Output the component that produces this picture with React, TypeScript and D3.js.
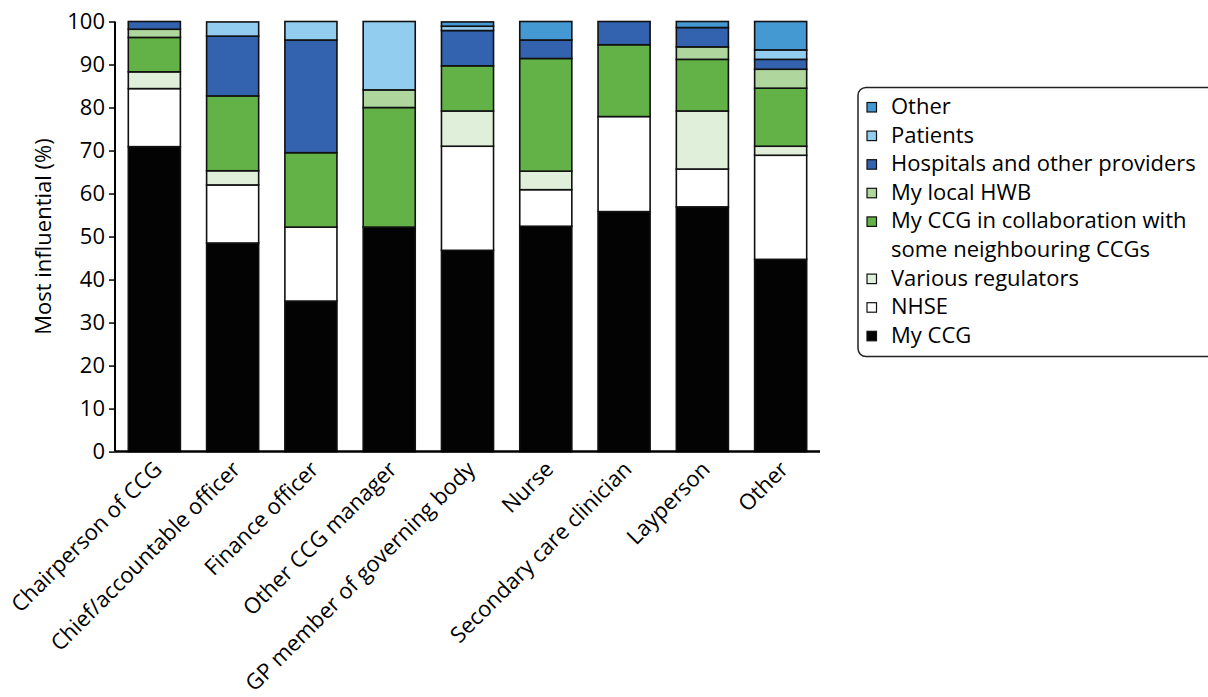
import { useEffect, useRef } from "react";
import * as d3 from "d3";

// カテゴリ (x軸)
const roles = [
  "Chairperson of CCG",
  "Chief/accountable officer",
  "Finance officer",
  "Other CCG manager",
  "GP member of governing body",
  "Nurse",
  "Secondary care clinician",
  "Layperson",
  "Other",
];

// series values (%), bottom to top
const myCCG = [70.9, 48.5, 35.0, 52.2, 46.8, 52.4, 55.8, 56.9, 44.7];
const nhse = [13.5, 13.5, 17.2, 0, 24.2, 8.5, 22.1, 8.8, 24.2];
const regulators = [3.9, 3.3, 0, 0, 8.2, 4.3, 0, 13.5, 2.1];
const collab = [8.0, 17.4, 17.3, 27.8, 10.5, 26.2, 16.7, 12.0, 13.5];
const hwb = [1.9, 0, 0, 4.1, 0, 0, 0, 2.9, 4.4];
const hospitals = [1.8, 13.9, 26.2, 0, 8.2, 4.3, 5.4, 4.5, 2.3];
const patients = [0, 3.3, 4.3, 15.9, 1.0, 0, 0, 0, 2.2];
const other = [0, 0, 0, 0, 1.0, 4.3, 0, 1.4, 6.6];

const yTicks = [0, 10, 20, 30, 40, 50, 60, 70, 80, 90, 100];

const SERIES = [
  { key: "My CCG", values: myCCG, color: "#030303" },
  { key: "NHSE", values: nhse, color: "#ffffff" },
  { key: "Various regulators", values: regulators, color: "#e0efd9" },
  { key: "My CCG in collaboration with\nsome neighbouring CCGs", values: collab, color: "#63b247" },
  { key: "My local HWB", values: hwb, color: "#aed69d" },
  { key: "Hospitals and other providers", values: hospitals, color: "#3362ae" },
  { key: "Patients", values: patients, color: "#92cdef" },
  { key: "Other", values: other, color: "#4499d3" },
];

const W = 1208;
const H = 697;
const FONT = "'Open Sans', 'Noto Sans', sans-serif";
const FS = 22;

export default function App() {
  const svgRef = useRef<SVGSVGElement>(null);

  useEffect(() => {
    if (!svgRef.current) return;
    const svg = d3.select(svgRef.current);
    svg.selectAll("*").remove();

    const left = 115, right = 820, top = 21.5, bottom = 451.6;

    const x = d3.scaleBand().domain(roles).range([left, right]).paddingInner(0.335).paddingOuter(0.17);
    const y = d3.scaleLinear().domain([0, 100]).range([bottom, top]);

    const rows = roles.map((r, i) => {
      const o: Record<string, number | string> = { role: r };
      SERIES.forEach((s) => (o[s.key] = s.values[i]));
      return o;
    });
    const stacked = d3.stack<Record<string, number | string>>()
      .keys(SERIES.map((s) => s.key))
      .value((d, k) => d[k] as number)(rows);

    // bars
    stacked.forEach((layer, li) => {
      svg.append("g")
        .selectAll("rect")
        .data(layer.filter((d) => d[1] - d[0] > 0))
        .join("rect")
        .attr("x", (d) => x(d.data.role as string)!)
        .attr("width", x.bandwidth())
        .attr("y", (d) => y(d[1]))
        .attr("height", (d) => y(d[0]) - y(d[1]))
        .attr("fill", SERIES[li].color)
        .attr("stroke", "#111")
        .attr("stroke-width", 1.6);
    });

    // y axis
    const yAxis = svg.append("g").attr("transform", `translate(${left},0)`)
      .call(d3.axisLeft(y).tickValues(yTicks).tickSize(6).tickPadding(4));
    yAxis.select(".domain").attr("stroke", "#000").attr("stroke-width", 2).attr("d", `M0,${top}V${bottom}`);
    yAxis.selectAll(".tick line").attr("stroke", "#000").attr("stroke-width", 1.5);
    yAxis.selectAll("text").attr("font-family", FONT).attr("font-size", FS).attr("fill", "#000");

    // x axis line
    svg.append("line")
      .attr("x1", left).attr("x2", right)
      .attr("y1", bottom).attr("y2", bottom)
      .attr("stroke", "#000").attr("stroke-width", 2.5);

    // x labels
    svg.append("g").selectAll("text")
      .data(roles)
      .join("text")
      .attr("transform", (d) => `translate(${x(d)! + x.bandwidth() / 2 + 9},${bottom + 19}) rotate(-45)`)
      .attr("text-anchor", "end")
      .attr("font-family", FONT)
      .attr("font-size", FS)
      .attr("fill", "#000")
      .text((d) => d);

    // y label
    svg.append("text")
      .attr("transform", `translate(51,${(top + bottom) / 2}) rotate(-90)`)
      .attr("text-anchor", "middle")
      .attr("font-family", FONT)
      .attr("font-size", FS)
      .attr("fill", "#000")
      .text("Most influential (%)");

    // legend
    const lg = svg.append("g");
    lg.append("rect")
      .attr("x", 858).attr("y", 87.5)
      .attr("width", 400).attr("height", 269)
      .attr("rx", 8)
      .attr("fill", "#fff").attr("stroke", "#222").attr("stroke-width", 1.5);

    const legendItems = [...SERIES].reverse();
    let rowY = 114;
    legendItems.forEach((s) => {
      lg.append("rect")
        .attr("x", 867).attr("y", rowY - 11.5)
        .attr("width", 9.5).attr("height", 9.5)
        .attr("fill", s.color).attr("stroke", "#111").attr("stroke-width", 1.2);
      const lines = s.key.split("\n");
      const t = lg.append("text")
        .attr("font-family", FONT).attr("font-size", FS).attr("fill", "#000");
      lines.forEach((ln, j) => {
        t.append("tspan").attr("x", 891).attr("y", rowY + j * 28.6).text(ln);
      });
      rowY += 28.6 * lines.length;
    });
  }, []);

  return (
    <svg
      ref={svgRef}
      width={W}
      height={H}
      viewBox={`0 0 ${W} ${H}`}
      style={{ position: "absolute", left: 0, top: 0, background: "#fff" }}
    />
  );
}
